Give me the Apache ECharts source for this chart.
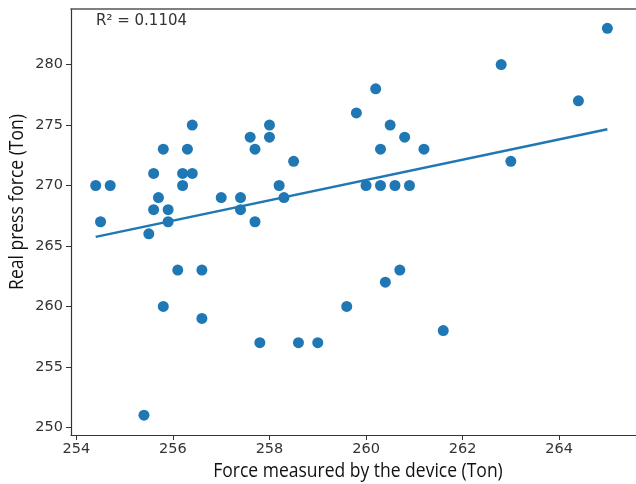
<!DOCTYPE html>
<html>
<head>
<meta charset="utf-8">
<script src="https://cdn.jsdelivr.net/npm/echarts@6/dist/echarts.min.js"></script>
<style>
	html,body{margin:0;padding:0;background:#fff;}
	#main{width:636px;height:484px;}
</style>
</head>
<body>
<div id="main"></div>
<script>
//散点数据 x: 设备测得力, y: 实际压力
var forceDevice = [254.4,254.7,254.5,255.5,255.6,255.7,255.6,255.8,255.9,255.9,256.2,256.2,256.3,256.4,256.4,257.0,257.4,257.4,257.6,257.7,257.7,258.0,258.0,258.5,258.2,258.3,
	265.0,262.8,264.4,260.2,259.8,260.5,260.8,260.3,261.2,263.0,260.0,260.3,260.6,260.9,
	256.1,256.6,255.8,256.6,257.8,258.6,259.0,259.6,255.4,260.4,260.7,261.6];
var forceReal = [270,270,267,266,271,269,268,273,268,267,271,270,273,271,275,269,269,268,274,273,267,275,274,272,270,269,
	283,280,277,278,276,275,274,273,273,272,270,270,270,270,
	263,263,260,259,257,257,257,260,251,262,263,258];
//趋势线两端 (图上读取)
var trendX = [254.4,265.0];
var trendY = [265.75,274.65];
//刻度
var xTicks = [254,256,258,260,262,264];
var yTicks = [250,255,260,265,270,275,280];
var r2Text = "R\u00b2 = 0.1104";
var xName = "Force measured by the device (Ton)";
var yName = "Real press force (Ton)";

initChart();

function initChart(){
	var myChart = echarts.init(document.getElementById('main'));
	var points = [];
	for (var i = 0; i < forceDevice.length; i++) {
		points.push([forceDevice[i],forceReal[i]]);
	}
	var trend = [];
	for (var j = 0; j < trendX.length; j++) {
		trend.push([trendX[j],trendY[j]]);
	}
	var blue = '#1f77b4';
	var tickFont = {color:'#333',fontSize:14.5,fontFamily:'DejaVu Sans'};
	//轴标题字体偏窄, 用 scaleX 压缩
	var nameStyle = {fill:'#111',fontSize:20,fontFamily:'Open Sans',align:'center',verticalAlign:'middle'};
	var option = {
		animation:false,
		backgroundColor:'#fff',
		grid:{left:71,right:-8,top:9,bottom:49},
		graphic:[{
			type:'text',
			left:96,
			top:14,
			style:{text:r2Text,fill:'#333',fontSize:15,fontFamily:'DejaVu Sans'}
		},{
			type:'text',
			x:358,
			y:471,
			scaleX:0.875,
			style:Object.assign({text:xName},nameStyle)
		},{
			type:'text',
			x:17,
			y:202,
			rotation:Math.PI/2,
			scaleX:0.875,
			style:Object.assign({text:yName},nameStyle)
		}],
		xAxis:[{
			type:'value',
			min:253.888,
			max:265.593,
			axisLine:{show:true,lineStyle:{color:'#333',width:1.2}},
			axisTick:{show:true,length:5,customValues:xTicks,lineStyle:{color:'#333'}},
			axisLabel:Object.assign({margin:7,customValues:xTicks},tickFont),
			splitLine:{show:false}
		},{
			type:'value',
			position:'top',
			min:253.888,
			max:265.593,
			axisLine:{show:true,lineStyle:{color:'#555',width:1.6}},
			axisTick:{show:false},
			axisLabel:{show:false},
			splitLine:{show:false}
		}],
		yAxis:{
			type:'value',
			min:249.36,
			max:284.6,
			axisLine:{show:true,lineStyle:{color:'#333',width:1.2}},
			axisTick:{show:true,length:5,customValues:yTicks,lineStyle:{color:'#333'}},
			axisLabel:Object.assign({margin:8,customValues:yTicks},tickFont),
			splitLine:{show:false}
		},
		series:[{
			name:'测量点',
			type:'scatter',
			symbolSize:11,
			itemStyle:{color:blue,opacity:1},
			data:points
		},{
			name:'趋势线',
			type:'line',
			symbol:'none',
			lineStyle:{color:blue,width:2.5},
			data:trend
		}]
	};
	myChart.setOption(option);
}
</script>
</body>
</html>
